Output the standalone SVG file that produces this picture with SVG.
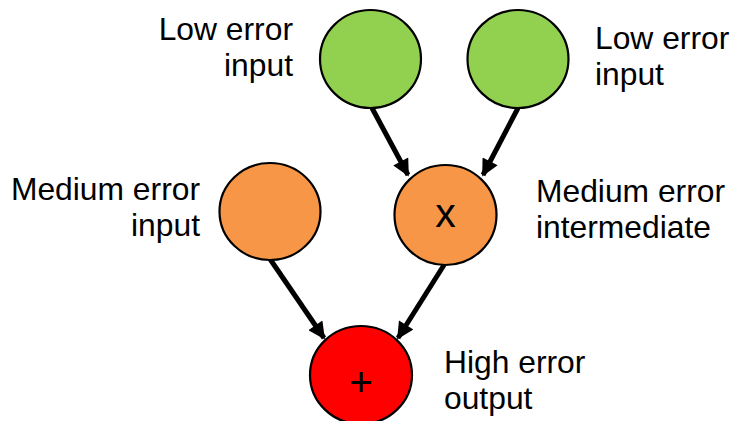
<svg xmlns="http://www.w3.org/2000/svg" width="732" height="421" viewBox="0 0 732 421">
  <style>
    .lbl { font-family: "Liberation Sans", Arial, sans-serif; font-size: 31.8px; fill: #000; }
    .op { font-family: "Liberation Sans", Arial, sans-serif; font-size: 41px; fill: #000; text-anchor: middle; }
    .node { stroke: #000; stroke-width: 2.2; }
    .low { fill: #92D050; }
    .mid { fill: #F79646; }
    .high { fill: #FF0000; }
    .edge { stroke: #000; stroke-width: 5; fill: none; marker-end: url(#arrow); }
  </style>
  <defs>
    <marker id="arrow" viewBox="0 0 10 10" refX="9" refY="5" markerUnits="userSpaceOnUse" markerWidth="19" markerHeight="17" orient="auto">
      <path d="M0,0 L10,5 L0,10 Z" fill="#000"/>
    </marker>
  </defs>

  <g id="connectors">
    <line class="edge" x1="372" y1="108" x2="408" y2="175"/>
    <line class="edge" x1="518" y1="108" x2="483" y2="175"/>
    <line class="edge" x1="270" y1="259" x2="324" y2="338"/>
    <line class="edge" x1="444" y1="265" x2="398" y2="338"/>
  </g>

  <g id="low-input-a">
    <ellipse class="node low" cx="370.5" cy="59" rx="50.5" ry="49"/>
    <text class="lbl" text-anchor="end" x="293" y="40">Low error</text>
    <text class="lbl" text-anchor="end" x="293" y="76">input</text>
  </g>

  <g id="low-input-b">
    <ellipse class="node low" cx="518" cy="59" rx="50.5" ry="49"/>
    <text class="lbl" x="595" y="49">Low error</text>
    <text class="lbl" x="595" y="85">input</text>
  </g>

  <g id="medium-input">
    <ellipse class="node mid" cx="270" cy="211.5" rx="50.5" ry="48.5"/>
    <text class="lbl" text-anchor="end" x="200" y="200">Medium error</text>
    <text class="lbl" text-anchor="end" x="200" y="236">input</text>
  </g>

  <g id="medium-intermediate">
    <ellipse class="node mid" cx="445.5" cy="215" rx="51" ry="50"/>
    <text class="op" x="445.5" y="227">x</text>
    <text class="lbl" x="536" y="202">Medium error</text>
    <text class="lbl" x="536" y="238">intermediate</text>
  </g>

  <g id="high-output">
    <ellipse class="node high" cx="361" cy="375" rx="51" ry="49"/>
    <text class="op" x="361" y="396">+</text>
    <text class="lbl" x="444" y="373">High error</text>
    <text class="lbl" x="444" y="409">output</text>
  </g>
</svg>
